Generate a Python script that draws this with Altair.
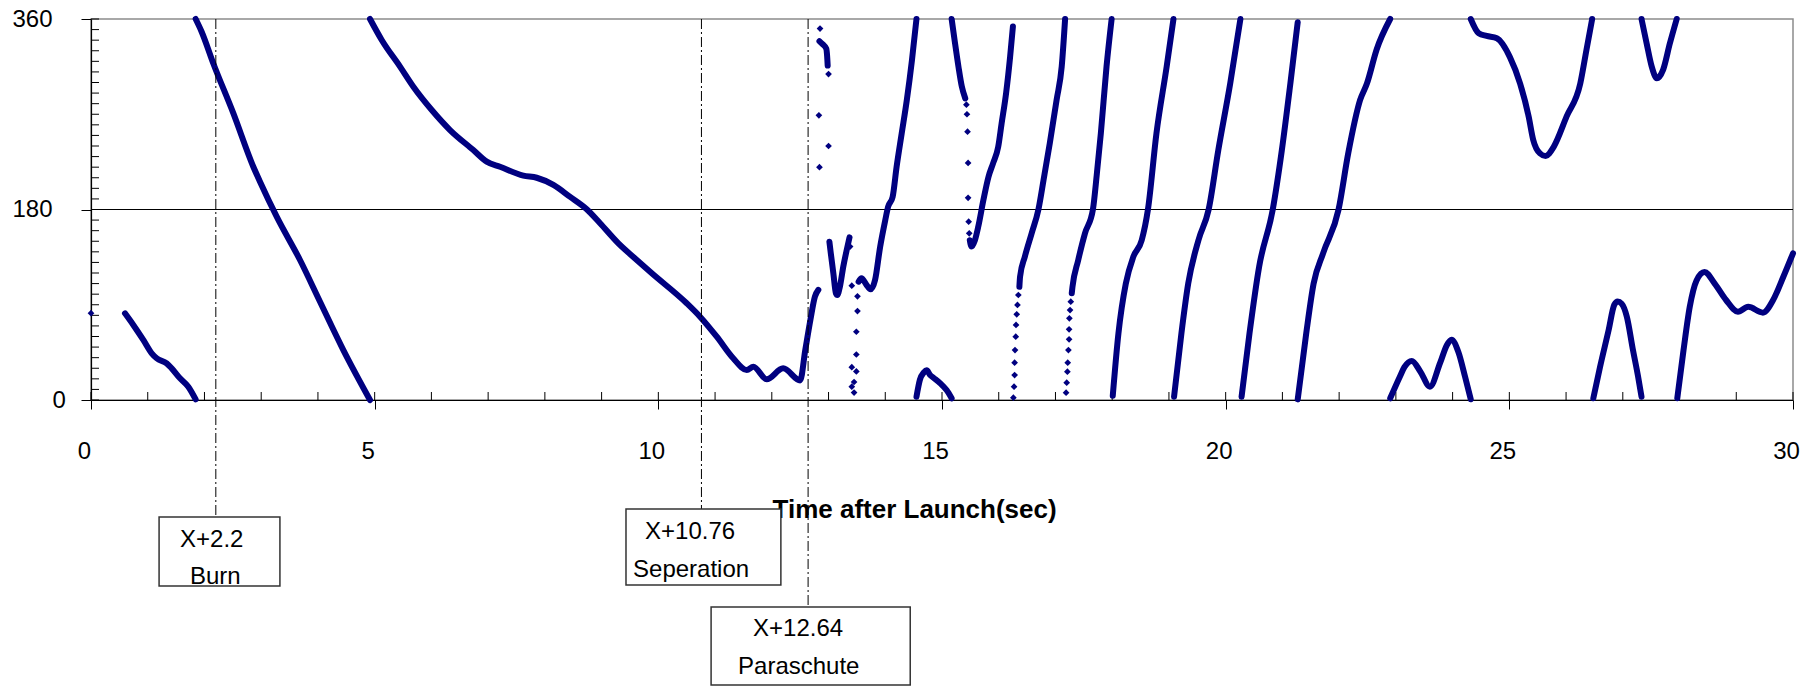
import altair as alt
import pandas as pd

NAVY = "#000080"
FONT = "Liberation Sans"

# ---- main series, drawn as continuous pieces (time after launch [s], angle [deg]) ----
seg_B = [(0.599, 81.9), (0.746, 70.9), (0.922, 56.7), (1.07, 44.1), (1.158, 39.4), (1.334, 34.6),
         (1.422, 29.9), (1.569, 20.5), (1.715, 12.6), (1.845, 0.6)]
seg_C = [(1.845, 360), (1.95, 348), (2.156, 318), (2.508, 271), (2.861, 220.4), (2.979, 206.3),
         (3.273, 173.2), (3.684, 132.3), (4.037, 92.9), (4.448, 47.2), (4.918, 0)]
seg_D = [(4.918, 360), (5.124, 340.2), (5.447, 315), (5.682, 296), (6.006, 274), (6.328, 255.1),
         (6.739, 236.2), (6.975, 225.2), (7.21, 220.4), (7.62, 212), (7.857, 210), (8.15, 203.2),
         (8.44, 192.1), (8.738, 180.2), (8.973, 167), (9.296, 148), (9.585, 134), (9.88, 120),
         (10.5, 91.4), (10.735, 78.7), (11.03, 59.8), (11.32, 39.4), (11.56, 28.3), (11.675, 31.5),
         (11.91, 19.5), (12.2, 29.9), (12.5, 18.5), (12.59, 47.2), (12.68, 75.6), (12.76, 97.6),
         (12.82, 104)]
seg_hook = [(12.84, 339), (12.9, 336), (12.96, 332), (12.975, 325), (12.985, 316)]
seg_V1 = [(13.015, 149.6), (13.04, 138.6), (13.085, 119.7), (13.13, 100.8), (13.155, 99.2),
          (13.2, 107), (13.26, 126), (13.32, 141.7), (13.37, 153.7)]
seg_rise1 = [(13.53, 111.8), (13.58, 115), (13.67, 108.7), (13.74, 104.6), (13.82, 113.4),
             (13.91, 144.9), (14.0, 170), (14.05, 182.6), (14.13, 192), (14.2, 220.4), (14.29, 252),
             (14.38, 283.5), (14.47, 321), (14.55, 360)]
seg_hump1 = [(14.55, 3), (14.61, 19), (14.68, 26), (14.73, 28), (14.79, 23.6), (14.85, 21),
             (14.97, 15.7), (15.08, 9.4), (15.17, 1.6)]
seg_desc = [(15.17, 360), (15.23, 337), (15.29, 315), (15.35, 296), (15.41, 285)]
seg_V2 = [(15.49, 151), (15.52, 145), (15.58, 151), (15.64, 164), (15.73, 189), (15.82, 211),
          (15.9, 223.6), (15.99, 239), (16.05, 261), (16.13, 290), (16.2, 324), (16.25, 353)]
seg_rise2 = [(16.364, 107), (16.376, 116.5), (16.46, 135.4), (16.58, 157.5), (16.70, 180.2),
             (16.79, 207.9), (16.9, 242.6), (17.02, 283.5), (17.11, 315), (17.17, 360)]
seg_E = [(17.287, 100.8), (17.30, 107), (17.4, 132), (17.52, 157.5), (17.66, 180), (17.73, 214),
         (17.8, 252), (17.9, 315), (17.99, 360)]
seg_F = [(18.01, 4), (18.11, 63), (18.24, 110), (18.37, 135), (18.52, 151), (18.63, 180),
         (18.78, 252), (18.96, 315), (19.08, 360)]
seg_G = [(19.09, 3), (19.22, 63), (19.34, 110), (19.52, 151), (19.7, 180), (19.87, 236),
         (20.08, 299), (20.26, 360)]
seg_H = [(20.28, 3), (20.42, 63), (20.59, 126), (20.83, 180), (20.99, 236), (21.14, 299),
         (21.27, 357)]
seg_I = [(21.27, 0.6), (21.42, 63), (21.55, 110), (21.72, 139), (21.99, 180), (22.16, 233),
         (22.37, 283.5), (22.49, 299), (22.66, 331), (22.9, 360)]
seg_bumps = [(22.9, 1.6), (23.07, 22), (23.15, 31), (23.28, 36.9), (23.43, 27), (23.6, 12.6),
             (23.78, 35), (23.9, 52), (23.98, 57), (24.1, 45.6), (24.22, 22), (24.32, 0.7)]
seg_top = [(24.32, 360), (24.46, 346.5), (24.6, 344), (24.78, 341.8), (25.01, 324), (25.19, 299),
           (25.34, 268), (25.42, 246), (25.54, 233), (25.64, 230.5), (25.78, 239), (26.01, 268),
           (26.25, 299), (26.36, 331), (26.46, 360)]
seg_hump2 = [(26.48, 1.6), (26.6, 31.5), (26.75, 66), (26.85, 90), (26.91, 93), (26.98, 91),
             (27.07, 79), (27.18, 47), (27.27, 22), (27.33, 3)]
seg_Vtop = [(27.33, 360), (27.42, 337), (27.51, 315), (27.6, 304), (27.71, 312), (27.83, 337),
            (27.95, 360)]
seg_last = [(27.96, 1.6), (28.07, 47), (28.18, 88), (28.3, 113), (28.44, 121), (28.62, 110),
            (28.82, 94.5), (29.03, 83.4), (29.21, 88), (29.47, 82.5), (29.65, 94.5), (29.83, 116.5),
            (30.0, 138.6)]

segments = [seg_B, seg_C, seg_D, seg_hook, seg_V1, seg_rise1, seg_hump1, seg_desc, seg_V2,
            seg_rise2, seg_E, seg_F, seg_G, seg_H, seg_I, seg_bumps, seg_top, seg_hump2,
            seg_Vtop, seg_last]

# ---- isolated samples (sparse parts of the record) ----
sparse_points = [
    (0.0, 82),
    (12.85, 351), (13.0, 308), (12.83, 269), (13.0, 240), (12.84, 220), (13.38, 145),
    (13.41, 108), (13.51, 98), (13.51, 84), (13.49, 64.5), (13.49, 43), (13.41, 31), (13.49, 27),
    (13.45, 17), (13.41, 12.6), (13.45, 7),
    (15.43, 279), (15.44, 270), (15.45, 253.5), (15.46, 224), (15.46, 191), (15.47, 168.5),
    (15.48, 157.5),
    (16.258, 2.2), (16.27, 12.6), (16.28, 23.6), (16.28, 35.3), (16.287, 47.2), (16.3, 59.8),
    (16.305, 70.9), (16.317, 81), (16.33, 89.8), (16.346, 99.2),
    (17.187, 6.9), (17.198, 16.4), (17.21, 26.8), (17.216, 35.3), (17.228, 47.2), (17.24, 57.3),
    (17.24, 66.8), (17.245, 77.2), (17.257, 85), (17.27, 92.9),
]

# ---- event annotations ----
event_time = [2.2, 10.76, 12.64]
event_line1 = ["X+2.2", "X+10.76", "X+12.64"]
event_line2 = ["Burn", "Seperation", "Paraschute"]
box_left = [1.20, 9.43, 10.93]
box_right = [3.33, 12.16, 14.44]
box_top = [-110.6, -103.0, -195.6]
box_bottom = [-175.8, -174.8, -269.3]
text1_t = [1.569, 9.766, 11.669]
text1_a = [-138.6, -131.3, -222.7]
text2_t = [1.745, 9.554, 11.405]
text2_a = [-173.9, -167.6, -258.9]

x_major = list(range(0, 31, 5))
x_minor = list(range(0, 31, 1))
y_major = [0, 180, 360]
y_minor = list(range(0, 361, 10))

# ---- tables ----
rows = []
for k, seg in enumerate(segments):
    for i, (t, a) in enumerate(seg):
        rows.append({"seg": k, "i": i, "t": t, "a": a})
lines_df = pd.DataFrame(rows)
pts_df = pd.DataFrame(sparse_points, columns=["t", "a"])
ev_df = pd.DataFrame({"t": event_time, "top": [360] * 3, "end": box_top})
box_df = pd.DataFrame({"x1": box_left, "x2": box_right, "y1": box_top, "y2": box_bottom})
txt_df = pd.DataFrame({
    "tx": text1_t + text2_t,
    "ty": text1_a + text2_a,
    "label": event_line1 + event_line2,
})
xminor_df = pd.DataFrame({"v": x_minor})
yminor_df = pd.DataFrame({"v": y_minor})

xs = alt.Scale(domain=[0, 30], nice=False, zero=False)
ys = alt.Scale(domain=[0, 360], nice=False, zero=False)

x_axis = alt.Axis(
    values=x_major, title="Time after Launch(sec)", grid=False,
    labelFont=FONT, labelFontSize=24, labelColor="black", labelOffset=-7,
    labelPadding=49, labelBaseline="alphabetic", labelFlush=False, labelOverlap=False,
    tickSize=9, tickColor="black", tickWidth=1, domainColor="black", domainWidth=1.2,
    titleFont=FONT, titleFontSize=26, titleFontWeight="bold", titleColor="black",
    titleX=681, titleY=117, titleAlign="left", titleBaseline="alphabetic", titleAngle=0,
)
y_axis = alt.Axis(
    values=y_major, title="", grid=False,
    labelFont=FONT, labelFontSize=24, labelColor="black", labelPadding=29,
    labelBaseline="middle", labelFlush=False, labelOverlap=False,
    labelAlign={"condition": {"test": "datum.value == 0", "value": "left"}, "value": "right"},
    tickSize=10, tickColor="black", tickWidth=1, domainColor="black", domainWidth=1.2,
)


def X(field, **kw):
    return alt.X(field, scale=xs, axis=x_axis, title="Time after Launch(sec)", **kw)


def Y(field, **kw):
    return alt.Y(field, scale=ys, axis=y_axis, title="", **kw)


# horizontal reference line at 180
ref180 = alt.Chart(pd.DataFrame({"t": [0, 30], "a": [180, 180]})).mark_line(
    color="black", strokeWidth=1
).encode(x=X("t:Q"), y=Y("a:Q"))

xminor = alt.Chart(xminor_df).mark_tick(
    orient="vertical", size=8, thickness=1, yOffset=-4, color="black", opacity=1
).encode(
    x=X("v:Q"),
    y=alt.YDatum(0, scale=ys, axis=y_axis, title=""),
)
yminor = alt.Chart(yminor_df).mark_tick(
    orient="horizontal", size=8, thickness=1, xOffset=4, color="black", opacity=1
).encode(
    y=Y("v:Q"),
    x=alt.XDatum(0, scale=xs, axis=x_axis, title="Time after Launch(sec)"),
)

lines = alt.Chart(lines_df).mark_line(
    color=NAVY, strokeWidth=6, strokeCap="round", strokeJoin="round", interpolate="monotone"
).encode(
    x=X("t:Q"), y=Y("a:Q"),
    detail="seg:N",
    order="i:Q",
)

points = alt.Chart(pts_df).mark_point(
    shape="diamond", filled=True, size=45, color=NAVY, opacity=1
).encode(x=X("t:Q"), y=Y("a:Q"))

events = alt.Chart(ev_df).mark_rule(
    color="black", strokeWidth=1, strokeDash=[10, 3, 2, 3]
).encode(x=X("t:Q"), y=Y("top:Q"), y2="end:Q")

boxes = alt.Chart(box_df).mark_rect(
    fill="white", stroke="#333333", strokeWidth=1.5
).encode(x=X("x1:Q"), x2="x2:Q", y=Y("y1:Q"), y2="y2:Q")

texts = alt.Chart(txt_df).mark_text(
    align="left", baseline="alphabetic", font=FONT, fontSize=24, color="black"
).encode(x=X("tx:Q"), y=Y("ty:Q"), text="label:N")

chart = alt.layer(
    ref180, xminor, yminor, lines, points, events, boxes, texts
).properties(
    width=1702, height=381,
    padding={"left": 91, "top": 19, "right": 18, "bottom": 287},
    autosize=alt.AutoSizeParams(type="none"),
).configure(
    font=FONT
).configure_view(
    stroke="#8c8c8c", strokeWidth=1.5
)

chart.save("out.html", embed_options={"renderer": "svg", "actions": False})
